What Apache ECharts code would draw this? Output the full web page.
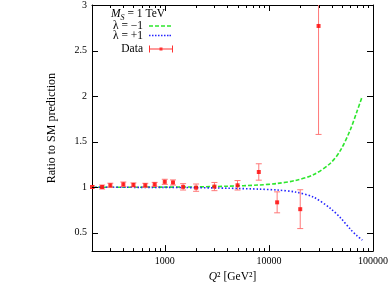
<!DOCTYPE html>
<html><head><meta charset="utf-8">
<script src="https://cdn.jsdelivr.net/npm/echarts@6/dist/echarts.min.js"></script>
<style>html,body{margin:0;padding:0;background:#fff}#c{width:391px;height:288px}</style>
</head><body><div id="c"></div>
<script>
// Data points (Q^2 in GeV^2, ratio to SM, symmetric error)
const dataQ2 = [200,250,300,400,500,650,800,1000,1200,1500,2000,3000,5000,8000,12000,20000,30000];
const dataRatio = [1.003,1.003,1.022,1.033,1.026,1.022,1.032,1.06,1.053,1.005,0.996,1.008,1.022,1.168,0.835,0.76,2.77];
const dataErr = [0.015,0.022,0.023,0.025,0.022,0.022,0.022,0.028,0.028,0.035,0.04,0.045,0.052,0.09,0.115,0.213,1.19];
// Model curves
const curveQ2 = [200,1000,2000,4000,8000,12000,18000,27000,39000,49000,61000,70000,79000];
const lambdaMinus = [1.0,1.002,1.004,1.012,1.025,1.042,1.075,1.14,1.264,1.41,1.64,1.83,2.0];
const lambdaPlus = [1.0,0.999,0.996,0.99,0.98,0.97,0.948,0.89,0.768,0.662,0.537,0.47,0.42];
// Ticks
const xMajor = [1000,10000,100000];
const xMinor = [200,300,400,500,600,700,800,900,2000,3000,4000,5000,6000,7000,8000,9000,20000,30000,40000,50000,60000,70000,80000,90000];
const yTicks = [0.5,1,1.5,2,2.5,3];

const FONT = '"Liberation Serif", "DejaVu Serif", serif';
const GREEN = '#2ee62e', BLUE = '#2424ff', RED = '#ff0000', ERR = '#ff7878';

const chart = echarts.init(document.getElementById('c'));

function xAx(pos, labels) {
  return {
    type:'log', min:200, max:100000, position:pos,
    axisLine:{show:true, lineStyle:{color:'#000', width:1}},
    axisTick:{show:false},
    axisLabel:{show:labels, customValues: labels ? xMajor : undefined, formatter: v => String(v),
      fontFamily:FONT, fontSize:10, color:'#000', margin:5},
    splitLine:{show:false}
  };
}
function yAx(pos, labels) {
  return {
    type:'value', min:0.3, max:3, position:pos,
    axisLine:{show:true, lineStyle:{color:'#000', width:1}},
    axisTick:{show:false},
    axisLabel:{show:labels, customValues: labels ? yTicks : undefined, fontFamily:FONT, fontSize:10, color:'#000', margin:5},
    splitLine:{show:false}
  };
}
const xAxes = [xAx('bottom', true), xAx('top', false)];
xAxes[0].name = '{i|Q}² [GeV²]';
xAxes[0].nameLocation = 'middle';
xAxes[0].nameGap = 13;
xAxes[0].nameTextStyle = {fontFamily:FONT, fontSize:11.5, color:'#000', rich:{i:{fontFamily:FONT, fontStyle:'italic', fontSize:11.5, color:'#000'}}};
const yAxes = [yAx('left', true), yAx('right', false)];
yAxes[0].name = 'Ratio to SM prediction';
yAxes[0].nameLocation = 'middle';
yAxes[0].nameGap = 34;
yAxes[0].nameTextStyle = {fontFamily:FONT, fontSize:12, color:'#000'};

const pts = dataQ2.map((q,i)=>[q, dataRatio[i], dataErr[i]]);

function renderErr(params, api) {
  const x = api.value(0), y = api.value(1), e = api.value(2);
  const cs = params.coordSys;
  const top = api.coord([x, y+e]), bot = api.coord([x, y-e]);
  const y0 = cs.y, y1 = cs.y + cs.height;
  const ty = Math.max(top[1], y0), by = Math.min(bot[1], y1);
  const st = {stroke:ERR, lineWidth:1};
  const ch = [{type:'line', shape:{x1:top[0], y1:ty, x2:bot[0], y2:by}, style:st}];
  if (top[1] >= y0) ch.push({type:'line', shape:{x1:top[0]-3, y1:top[1], x2:top[0]+3, y2:top[1]}, style:st});
  if (bot[1] <= y1) ch.push({type:'line', shape:{x1:bot[0]-3, y1:bot[1], x2:bot[0]+3, y2:bot[1]}, style:st});
  return {type:'group', children:ch};
}

function tickRender(dir, len) {
  return function (params, api) {
    const cs = params.coordSys;
    const st = {stroke:'#000', lineWidth:1};
    if (dir === 'x') {
      const x = Math.round(api.coord([api.value(0), 1])[0]) + 0.5;
      const b = cs.y + cs.height, t = cs.y;
      return {type:'group', children:[
        {type:'line', shape:{x1:x, y1:b, x2:x, y2:b-len}, style:st},
        {type:'line', shape:{x1:x, y1:t, x2:x, y2:t+len}, style:st}]};
    } else {
      const y = Math.round(api.coord([1000, api.value(1)])[1]) + 0.5;
      const l = cs.x, r = cs.x + cs.width;
      return {type:'group', children:[
        {type:'line', shape:{x1:l, y1:y, x2:l+len, y2:y}, style:st},
        {type:'line', shape:{x1:r, y1:y, x2:r-len, y2:y}, style:st}]};
    }
  };
}

const dashIcon = 'path://M0,0H4V1.6H0Z M6,0H10V1.6H6Z M12,0H16V1.6H12Z M18,0H22V1.6H18Z';
const dotIcon = 'path://M0,0H1.5V1.6H0Z M3,0H4.5V1.6H3Z M6,0H7.5V1.6H6Z M9,0H10.5V1.6H9Z M12,0H13.5V1.6H12Z M15,0H16.5V1.6H15Z M18,0H19.5V1.6H18Z M20.5,0H22V1.6H20.5Z';
const dataIcon = 'path://M0,0H1V7H0Z M1,3H23V4H1Z M23,0H24V7H23Z M10.5,2H13.5V5H10.5Z';

function leg(name, icon, w, h, top, right) {
  return {show:true, orient:'vertical', align:'right', right:right, top:top, padding:0,
    itemWidth:w, itemHeight:h, icon:icon, selectedMode:false,
    data:[{name:name, icon:icon}],
    textStyle:{fontFamily:FONT, fontSize:11.5, color:'#000', lineHeight:10, padding:[0,1,0,0]}};
}

chart.setOption({
  animation:false,
  grid:{left:92, right:18, top:5, bottom:32},
  xAxis:xAxes, yAxis:yAxes,
  legend:[
    leg('λ = −1', dashIcon, 22, 1.6, 20, 220),
    leg('λ = +1', dotIcon, 22, 1.6, 29.5, 220),
    leg('Data', dataIcon, 24, 7, 43, 218)
  ],
  graphic:[{type:'text', left:111, top:8, style:{
    text:'{i|M}{s|S} = 1 TeV', fontFamily:FONT, fontSize:11.5, fill:'#000',
    rich:{i:{fontFamily:FONT, fontStyle:'italic', fontSize:11.5}, s:{fontFamily:FONT, fontStyle:'italic', fontSize:8, padding:[7,0,0,0]}}}}],
  series:[
    {type:'custom', xAxisIndex:0, yAxisIndex:0, data:xMajor.map(v=>[v,1]), renderItem:tickRender('x',6), clip:false, zlevel:1, z:10},
    {type:'custom', xAxisIndex:0, yAxisIndex:0, data:xMinor.map(v=>[v,1]), renderItem:tickRender('x',3), clip:false, zlevel:1, z:10},
    {type:'custom', xAxisIndex:0, yAxisIndex:0, data:yTicks.map(v=>[1000,v]), renderItem:tickRender('y',6), clip:false, zlevel:1, z:10},
    {name:'λ = −1', type:'line', xAxisIndex:0, yAxisIndex:0, data:curveQ2.map((q,i)=>[q, lambdaMinus[i]]),
      symbol:'none', smooth:0.3, itemStyle:{color:GREEN}, lineStyle:{color:GREEN, width:1.6, type:[4,2]}, z:3},
    {name:'λ = +1', type:'line', xAxisIndex:0, yAxisIndex:0, data:curveQ2.map((q,i)=>[q, lambdaPlus[i]]),
      symbol:'none', smooth:0.3, itemStyle:{color:BLUE}, lineStyle:{color:BLUE, width:1.6, type:[1.5,2]}, z:3},
    {name:'DataErr', type:'custom', xAxisIndex:0, yAxisIndex:0, data:pts, renderItem:renderErr, clip:true, z:4},
    {name:'Data', type:'scatter', xAxisIndex:0, yAxisIndex:0, data:pts.map(p=>[p[0],p[1]]),
      symbol:'rect', symbolSize:4, itemStyle:{color:RED}, z:5}
  ]
});
</script></body></html>
